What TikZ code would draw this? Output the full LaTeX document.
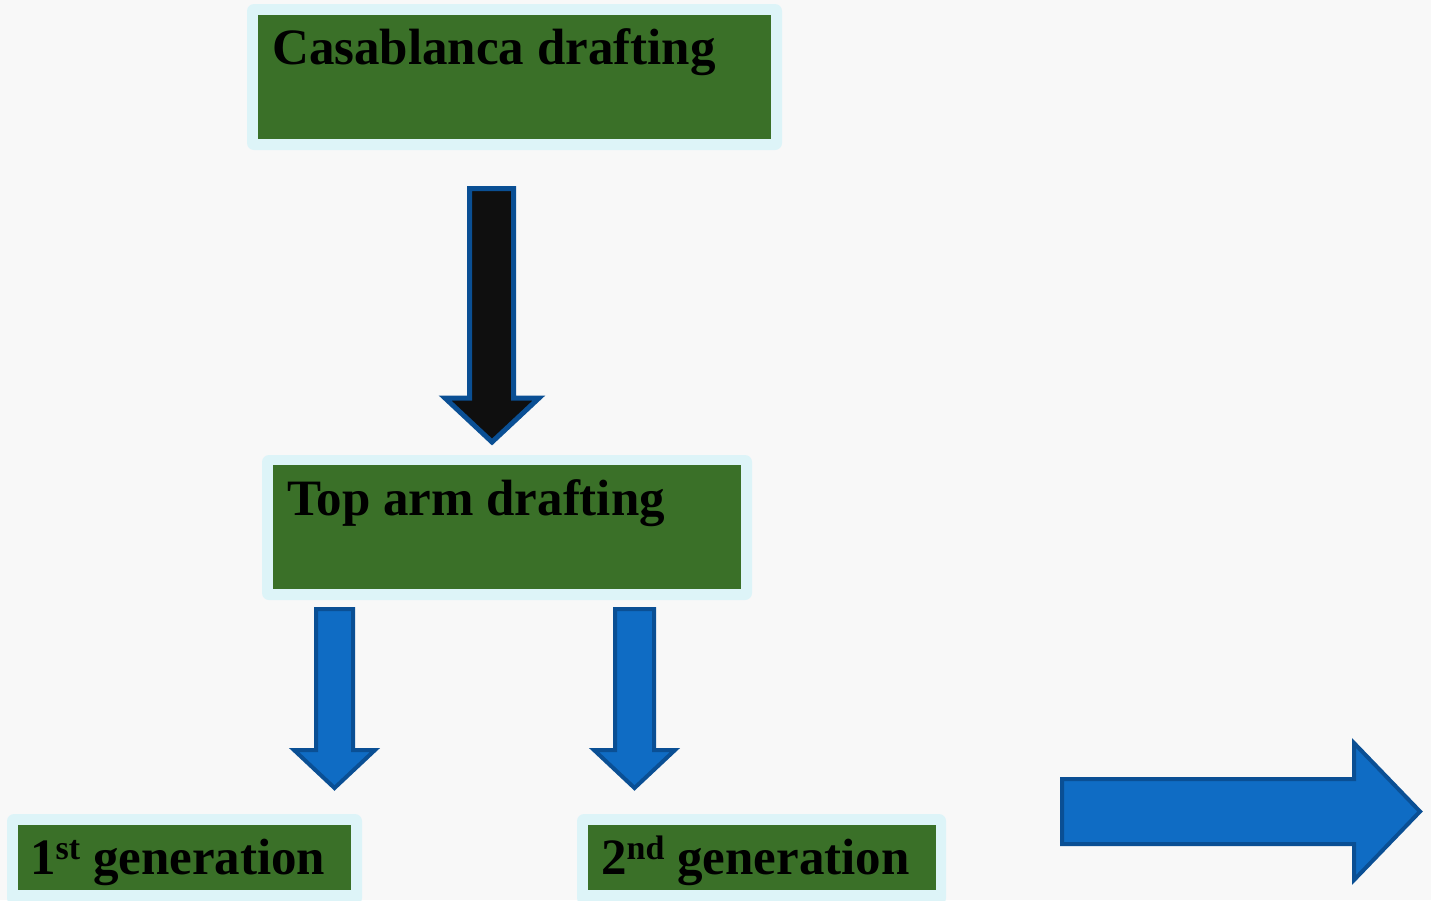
\documentclass[tikz,border=0pt]{standalone}
\usepackage{fontspec}
\setmainfont{Liberation Serif}
\definecolor{paper}{HTML}{F8F8F8}
\definecolor{leaf}{HTML}{3A7028}
\definecolor{frame}{HTML}{DDF4F8}
\definecolor{arrowblue}{HTML}{0F6CC4}
\definecolor{arrowedge}{HTML}{0A4F94}
\definecolor{arrowblack}{HTML}{0F0F0F}
% raised ordinal suffix
\newcommand{\ordsuffix}[1]{\raisebox{15pt}{\fontsize{34}{34}\selectfont\bfseries #1}}
\tikzset{
  halo/.style={fill=frame, draw=none, rounded corners=7pt},
  panel/.style={fill=leaf, draw=none},
  label/.style={anchor=base west, inner sep=0pt, text=black,
    font=\fontsize{51}{60}\selectfont\bfseries},
  bluearrow/.style={fill=arrowblue, draw=arrowedge, line width=4pt, line join=miter},
  blackarrow/.style={fill=arrowblack, draw=arrowedge, line width=5pt, line join=miter},
}
\begin{document}
\begin{tikzpicture}[x=1pt, y=-1pt]
  % page
  \fill[paper] (0,0) rectangle (1431,900);
  \useasboundingbox (0,0) rectangle (1431,900);

  % Casablanca drafting
  \fill[halo] (247,4) rectangle (782,150);
  \fill[panel] (258,15) rectangle (771,139);
  \node[label] (casa) at (272,64) {Casablanca drafting};

  % Top arm drafting
  \fill[halo] (262,455) rectangle (752,600);
  \fill[panel] (273,465) rectangle (741,589);
  \node[label] (toparm) at (287,515) {Top arm drafting};

  % generations
  \fill[halo] (7,814) rectangle (362,905);
  \fill[panel] (18,825) rectangle (351,890);
  \node[label] (gen1) at (30,874) {1\ordsuffix{st} generation};

  \fill[halo] (577,814) rectangle (946,905);
  \fill[panel] (588,825) rectangle (936,890);
  \node[label] (gen2) at (601,874) {2\ordsuffix{nd} generation};

  % block arrows
  \draw[blackarrow] (469.5,188.5) -- (513.5,188.5) -- (513.5,398) -- (539,398)
    -- (492,442) -- (445,398) -- (469.5,398) -- cycle;

  \draw[bluearrow] (316,609) -- (353,609) -- (353,750) -- (375,750)
    -- (334.5,788) -- (294,750) -- (316,750) -- cycle;

  \draw[bluearrow] (615,609) -- (654,609) -- (654,750) -- (675,750)
    -- (634.5,788) -- (594,750) -- (615,750) -- cycle;

  \draw[bluearrow] (1062,779) -- (1354,779) -- (1354,743) -- (1420,811.5)
    -- (1354,880) -- (1354,844) -- (1062,844) -- cycle;
\end{tikzpicture}
\end{document}
